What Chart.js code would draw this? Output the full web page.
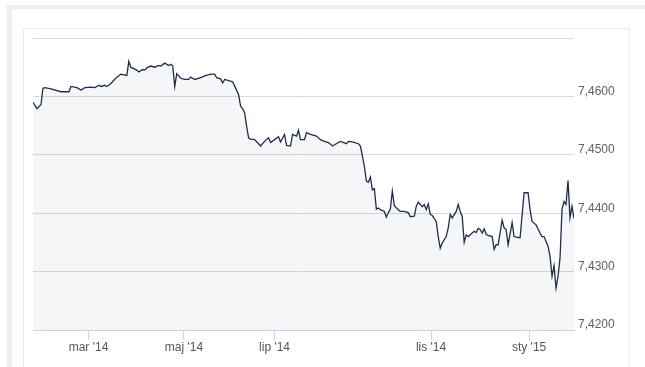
<!DOCTYPE html>
<html>
<head>
<meta charset="utf-8">
<script src="https://cdn.jsdelivr.net/npm/chart.js@4.4.1/dist/chart.umd.min.js"></script>
<style>
  html, body { margin: 0; padding: 0; background: #fff; }
  body { width: 645px; height: 367px; position: relative; overflow: hidden; }
  .frame { position: absolute; left: 7px; top: 5px; width: 700px; height: 400px;
           border-top: 4px solid #eeeeee; border-left: 5px solid #eeeeee; }
  .box { position: absolute; left: 23px; top: 28px; width: 605px; height: 400px;
         border: 1px solid #ececec; background: #fff; }
  #chart { position: absolute; left: 0; top: 0; }
</style>
</head>
<body>
<div class="frame"></div>
<div class="box"></div>
<canvas id="chart" width="645" height="367"></canvas>
<script>
// trading day index and EUR rate
var dayIndex = [0, 2, 4, 5, 6, 9, 14, 18, 19, 22, 24, 26, 29, 31, 33, 34, 36, 37, 39, 40,
  42, 44, 47, 48, 49, 52, 53, 55, 56, 57, 59, 61, 63, 64, 66, 68, 69, 70, 71, 72,
  74, 76, 78, 79, 81, 84, 86, 89, 91, 92, 94, 95, 96, 98, 100, 101, 103, 104, 105, 106,
  107, 108, 109, 111, 113, 114, 116, 118, 119, 121, 123, 124, 126, 127, 129, 130, 132, 133, 134, 136,
  137, 139, 142, 144, 146, 148, 150, 153, 154, 157, 158, 160, 163, 164, 165, 166, 167, 168, 169, 170,
  171, 172, 173, 174, 176, 177, 178, 179, 180, 181, 183, 184, 186, 188, 189, 191, 192, 193, 195, 196,
  197, 198, 199, 200, 202, 203, 204, 205, 207, 208, 209, 210, 212, 213, 214, 215, 216, 217, 218, 219,
  221, 222, 223, 224, 225, 226, 227, 228, 230, 231, 232, 233, 235, 236, 237, 238, 240, 241, 242, 244,
  246, 248, 249, 250, 252, 254, 255, 256, 258, 259, 260, 261, 262, 263, 264, 265, 266, 267, 268, 269,
  270, 271];
var rate = [7.4590, 7.4579, 7.4586, 7.4614, 7.4615, 7.4613, 7.4608, 7.4608, 7.4617, 7.4615,
  7.4611, 7.4615, 7.4616, 7.4615, 7.4619, 7.4617, 7.4619, 7.4617, 7.4622, 7.4626,
  7.4633, 7.4638, 7.4636, 7.4660, 7.4650, 7.4645, 7.4642, 7.4646, 7.4645, 7.4649,
  7.4652, 7.4650, 7.4653, 7.4652, 7.4657, 7.4653, 7.4655, 7.4652, 7.4617, 7.4639,
  7.4631, 7.4629, 7.4629, 7.4633, 7.4629, 7.4632, 7.4635, 7.4638, 7.4638, 7.4632,
  7.4630, 7.4623, 7.4629, 7.4627, 7.4625, 7.4618, 7.4603, 7.4583, 7.4579, 7.4572,
  7.4549, 7.4529, 7.4527, 7.4526, 7.4519, 7.4515, 7.4523, 7.4529, 7.4521, 7.4526,
  7.4531, 7.4522, 7.4535, 7.4516, 7.4515, 7.4535, 7.4532, 7.4542, 7.4526, 7.4526,
  7.4538, 7.4535, 7.4532, 7.4526, 7.4523, 7.4521, 7.4515, 7.4521, 7.4523, 7.4519,
  7.4523, 7.4522, 7.4519, 7.4515, 7.4498, 7.4480, 7.4455, 7.4453, 7.4462, 7.4440,
  7.4442, 7.4407, 7.4409, 7.4406, 7.4403, 7.4393, 7.4401, 7.4407, 7.4438, 7.4413,
  7.4406, 7.4403, 7.4403, 7.4401, 7.4394, 7.4395, 7.4412, 7.4419, 7.4411, 7.4415,
  7.4406, 7.4416, 7.4398, 7.4396, 7.4386, 7.4360, 7.4340, 7.4349, 7.4360, 7.4375,
  7.4398, 7.4392, 7.4403, 7.4415, 7.4403, 7.4395, 7.4350, 7.4363, 7.4360, 7.4363,
  7.4369, 7.4367, 7.4374, 7.4372, 7.4366, 7.4373, 7.4364, 7.4362, 7.4360, 7.4338,
  7.4346, 7.4346, 7.4388, 7.4375, 7.4372, 7.4346, 7.4384, 7.4360, 7.4359, 7.4358,
  7.4435, 7.4435, 7.4406, 7.4386, 7.4380, 7.4366, 7.4360, 7.4360, 7.4343, 7.4326,
  7.4292, 7.4310, 7.4272, 7.4292, 7.4323, 7.4407, 7.4420, 7.4415, 7.4456, 7.4392,
  7.4412, 7.4391];

var tickDays = [27.8, 75.6, 121, 199.4, 248.5];
var tickLabels = ["mar '14", "maj '14", "lip '14", "lis '14", "sty '15"];
var yTicks = [7.42, 7.43, 7.44, 7.45, 7.46, 7.47];

var points = dayIndex.map(function (d, i) { return { x: d, y: rate[i] }; });

var ctx = document.getElementById("chart").getContext("2d");

new Chart(ctx, {
  type: "line",
  data: {
    datasets: [{
      data: points,
      borderColor: "#1f2d4d",
      borderWidth: 1.3,
      backgroundColor: "rgba(30, 50, 95, 0.045)",
      fill: "start",
      pointRadius: 0,
      pointHoverRadius: 0,
      tension: 0
    }]
  },
  options: {
    responsive: false,
    animation: false,
    layout: { padding: { left: 33, top: 38, right: 0, bottom: 0 } },
    plugins: { legend: { display: false }, tooltip: { enabled: false } },
    scales: {
      x: {
        type: "linear",
        min: 0,
        max: 271,
        afterBuildTicks: function (scale) {
          scale.ticks = tickDays.map(function (v) { return { value: v }; });
        },
        afterFit: function (scale) { scale.height = 37; },
        grid: { drawOnChartArea: false, drawTicks: true, tickLength: 10, color: "#ccd6eb" },
        border: { color: "#ccd6eb", width: 1 },
        ticks: {
          autoSkip: false,
          maxRotation: 0,
          padding: 0,
          color: "#555",
          font: { family: "'Liberation Sans', Arial, sans-serif", size: 12 },
          callback: function (v) {
            var i = tickDays.indexOf(v);
            return i >= 0 ? tickLabels[i] : null;
          }
        }
      },
      y: {
        position: "right",
        min: 7.42,
        max: 7.47,
        afterBuildTicks: function (scale) {
          scale.ticks = yTicks.map(function (v) { return { value: v }; });
        },
        afterFit: function (scale) { scale.width = 71; },
        grid: { color: "#d9d9d9", lineWidth: 1, drawTicks: false },
        border: { display: false },
        ticks: {
          padding: 4,
          labelOffset: -5,
          color: "#606060",
          font: { family: "'Liberation Sans', Arial, sans-serif", size: 12 },
          callback: function (v) {
            if (Math.abs(v - 7.47) < 1e-6) return "";
            return v.toFixed(4).replace(".", ",");
          }
        }
      }
    }
  }
});
</script>
</body>
</html>
